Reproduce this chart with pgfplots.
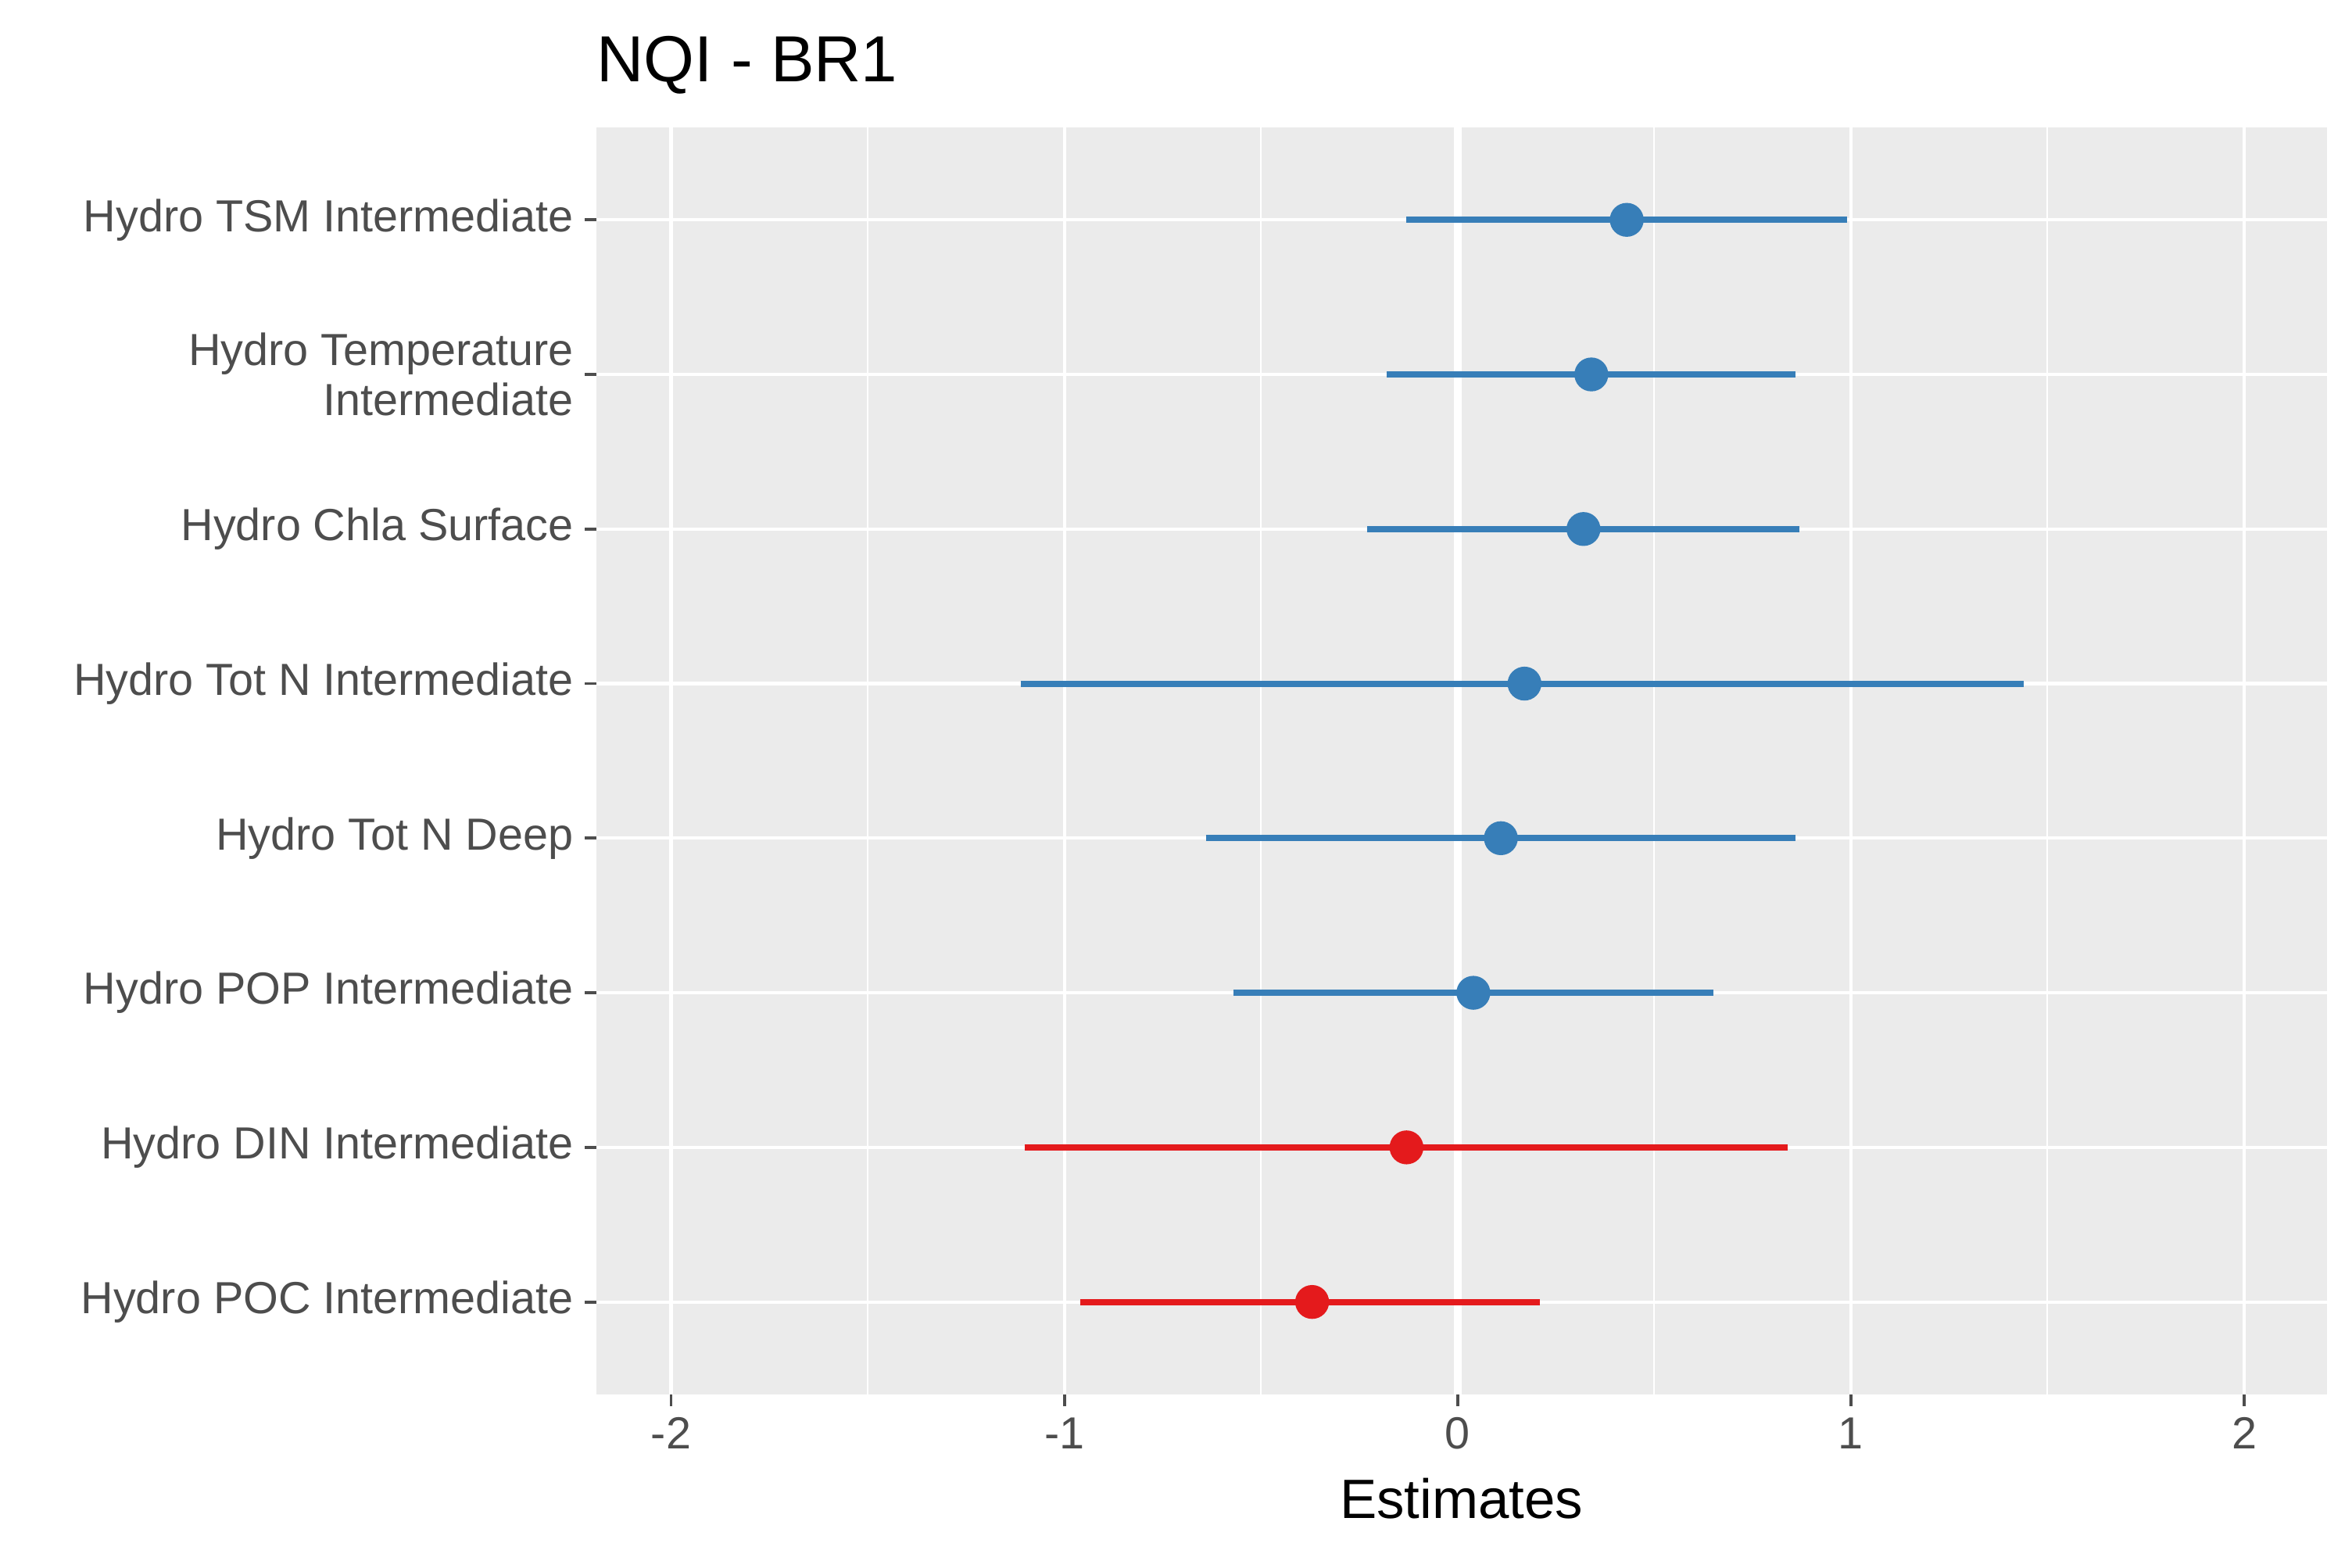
\documentclass[border=0pt]{standalone}
\usepackage{pgfplots}
\pgfplotsset{compat=1.18}
\usepackage{fontspec}
\setmainfont{Liberation Sans}
\definecolor{cblue}{HTML}{377EB8}
\definecolor{cred}{HTML}{E41A1C}
\definecolor{bg}{HTML}{EBEBEB}
\definecolor{g30}{HTML}{4D4D4D}
\begin{document}
\begin{tikzpicture}
\begin{axis}[
  at={(0,0)}, anchor=south west,
  scale only axis, width=531pt, height=389pt,
  xmin=-2.19, xmax=2.21, ymin=0.4, ymax=8.6,
  axis background/.style={fill=bg},
  axis line style={draw=none},
  xtick={-2,-1,0,1,2}, minor xtick={-1.5,-0.5,0.5,1.5},
  ytick={1,...,8},
  xtick pos=bottom, ytick pos=left,
  yticklabels={Hydro POC Intermediate,Hydro DIN Intermediate,Hydro POP Intermediate,Hydro Tot N Deep,Hydro Tot N Intermediate,Hydro Chla Surface,{Hydro Temperature\\Intermediate},Hydro TSM Intermediate},
  yticklabel style={align=right, font=\fontsize{13.8}{15.5}\selectfont, text=g30},
  xticklabel style={font=\fontsize{13.8}{15}\selectfont, text=g30},
  /pgf/number format/assume math mode=true,
  tick align=outside, major tick length=3.5pt,
  tick style={g30, line width=0.9pt},
  minor tick length=0pt,
  grid=both,
  major grid style={white, line width=1pt},
  minor grid style={white, line width=0.5pt},
  xlabel={Estimates},
  xlabel style={font=\fontsize{17}{19}\selectfont, yshift=-2pt},
  clip=false,
]
\addplot[white, line width=2.5pt] coordinates {(0,0.4) (0,8.6)};
\addplot[cblue, line width=1.9pt] coordinates {(-0.13,8) (0.99,8)};
\addplot[cblue, line width=1.9pt] coordinates {(-0.18,7) (0.86,7)};
\addplot[cblue, line width=1.9pt] coordinates {(-0.23,6) (0.87,6)};
\addplot[cblue, line width=1.9pt] coordinates {(-1.11,5) (1.44,5)};
\addplot[cblue, line width=1.9pt] coordinates {(-0.64,4) (0.86,4)};
\addplot[cblue, line width=1.9pt] coordinates {(-0.57,3) (0.65,3)};
\addplot[cred, line width=1.9pt] coordinates {(-1.10,2) (0.84,2)};
\addplot[cred, line width=1.9pt] coordinates {(-0.96,1) (0.21,1)};
\addplot[only marks, mark=*, mark size=5pt, cblue] coordinates {(0.43,8) (0.34,7) (0.32,6) (0.17,5) (0.11,4) (0.04,3)};
\addplot[only marks, mark=*, mark size=5pt, cred] coordinates {(-0.13,2) (-0.37,1)};
\end{axis}
\node[anchor=base west, font=\fontsize{20}{22}\selectfont, inner sep=0pt] at (0,403pt) {NQI - BR1};
\pgfresetboundingbox
\path[use as bounding box] (-183pt,-53pt) rectangle (536.6pt,428pt);
\end{tikzpicture}
\end{document}
